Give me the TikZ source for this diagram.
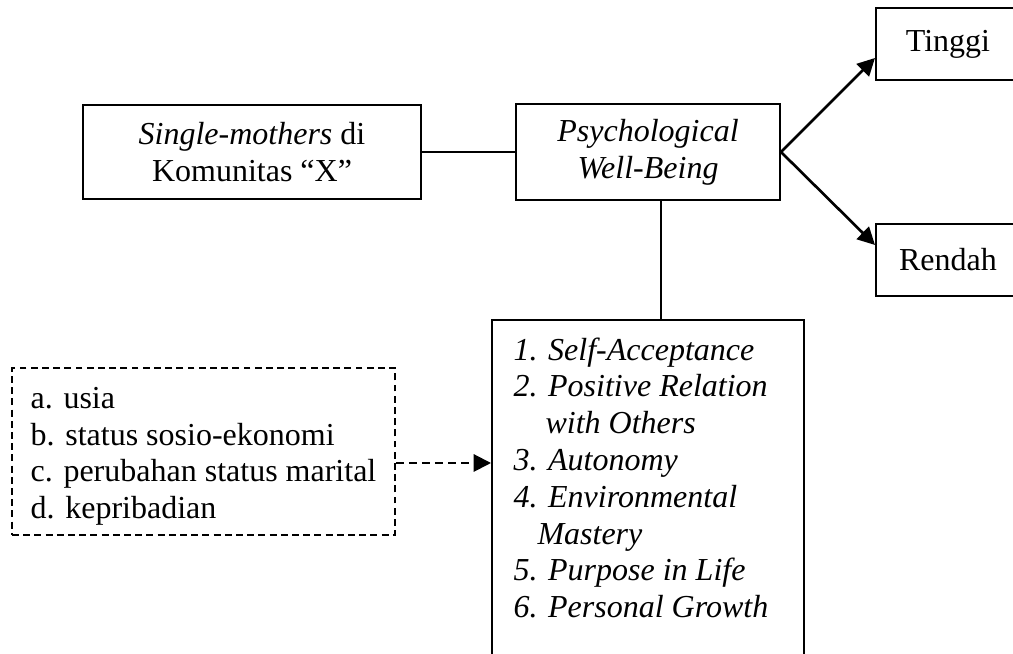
\documentclass[tikz,border=0pt]{standalone}
\usepackage{fontspec}
\setmainfont{Liberation Serif}
\usetikzlibrary{arrows.meta,calc}

\begin{document}
\begin{tikzpicture}[x=0.375pt, y=-0.375pt,
	every node/.style={font=\fontsize{12pt}{13.8pt}\selectfont},
	box/.style={draw, line width=0.75pt, align=center, inner sep=0pt},
	dashbox/.style={draw, line width=0.6pt, dash pattern=on 2.6pt off 1.6pt, align=left, inner sep=0pt},
	link/.style={line width=0.75pt},
	arrow/.style={line width=1pt, -{Triangle[length=6.5pt,width=6.5pt]}}]
	%%%%% START %%%%%
	\useasboundingbox (0,0) rectangle (1013,654);
	
	\node[box, minimum width=126.75pt, minimum height=35.25pt] (mother) at (252,152) {\textit{Single-mothers} di\\Komunitas “X”};
	\node[box, minimum width=99pt, minimum height=36pt] (pwb) at (648,152) {\textit{Psychological}\\\textit{Well-Being}};
	
	\node[box, minimum width=54pt, minimum height=27pt] (tinggi) at (948,44) {Tinggi};
	\node[box, minimum width=54pt, minimum height=27pt] (rendah) at (948,260) {Rendah};
	
	\node[box, minimum width=117pt, minimum height=127.5pt] (dims) at (648,490) {};
	\node[anchor=north west, align=left, inner sep=0pt] (dimslist) at (513,337) {%
		\textit{1. Self-Acceptance}\\
		\textit{2. Positive Relation}\\
		\hspace*{12pt}\textit{with Others}\\
		\textit{3. Autonomy}\\
		\textit{4. Environmental}\\
		\hspace*{9pt}\textit{Mastery}\\
		\textit{5. Purpose in Life}\\
		\textit{6. Personal Growth}};
	
	\node[dashbox, minimum width=143.6pt, minimum height=62.6pt] (factors) at (203.5,451.5) {%
		\rule{0pt}{11.5pt}a. usia\\
		b. status sosio-ekonomi\\
		c. perubahan status marital\\
		d. kepribadian};
	
	\draw[link] (mother.east) -- (pwb.west);
	\draw[link] ($(pwb.south)+(13,0)$) -- ($(dims.north)+(13,0)$);
	\draw[arrow] (pwb.east) -- (tinggi.west |- 0,58);
	\draw[arrow] (pwb.east) -- (rendah.west |- 0,245);
	
	\coordinate (fa) at (factors.east |- 0,463);
	\draw[arrow, line width=0.75pt, dash pattern=on 3pt off 1.9pt] (fa) -- (fa -| dims.west);
	%%%%% END %%%%%
\end{tikzpicture}
\end{document}
